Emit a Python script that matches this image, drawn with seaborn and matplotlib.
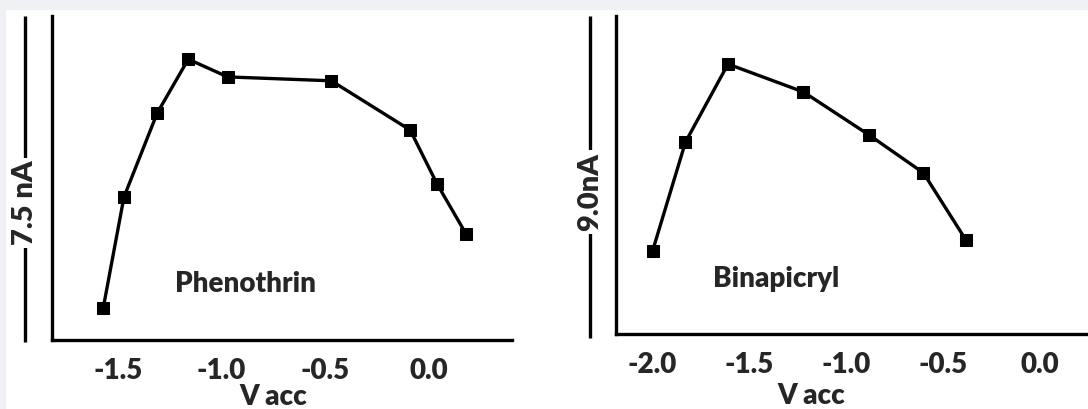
# two current vs accelerating voltage panels (Phenothrin / Binapicryl)
import matplotlib
matplotlib.use("Agg")
import matplotlib.pyplot as plt
import seaborn as sns
import pandas as pd
from matplotlib.patches import Rectangle

# values
phen_v = [-1.57, -1.47, -1.31, -1.16, -0.97, -0.47, -0.09, 0.04, 0.18]
phen_i = [0.74, 3.31, 5.25, 6.50, 6.09, 6.00, 4.86, 3.61, 2.45]
bina_v = [-2.00, -1.83, -1.61, -1.22, -0.88, -0.60, -0.38]
bina_i = [2.35, 5.43, 7.64, 6.85, 5.63, 4.56, 2.66]
phen_ticks = [-1.5, -1.0, -0.5, 0.0]
bina_ticks = [-2.0, -1.5, -1.0, -0.5, 0.0]

sns.set_style("white")
plt.rcParams['font.family'] = ['Lato', 'DejaVu Sans']
plt.rcParams['font.weight'] = 'heavy'

fig = plt.figure(figsize=(10.88, 4.09), dpi=100)
W, H = 1088, 409

# light grey frame strip at the top and left
fig.patches.append(Rectangle((0, 1 - 9 / H), 1, 9 / H, transform=fig.transFigure,
                             color='#eff1f4', zorder=0))
fig.patches.append(Rectangle((0, 0), 5 / W, 1, transform=fig.transFigure,
                             color='#eff1f4', zorder=0))

ax1 = fig.add_axes([52 / W, (H - 340) / H, (512 - 52) / W, (340 - 16) / H])
ax2 = fig.add_axes([616 / W, (H - 334) / H, (1088 - 616) / W, (334 - 16) / H])


def panel(ax, v, i, ticks, xlim, ymax, name, name_xy, scale_txt, bar_x, bar_y0, txt_y, xlab_xy):
    df = pd.DataFrame({'V acc': v, 'I': i})
    sns.lineplot(data=df, x='V acc', y='I', ax=ax, color='black', lw=2.4,
                 marker='s', markersize=8, markeredgecolor='black')
    ax.set_xlim(*xlim)
    ax.set_ylim(0, ymax)
    ax.set_xticks(ticks)
    ax.set_xticklabels([f"{t:.1f}" for t in ticks], fontsize=20, fontweight='heavy')
    ax.set_yticks([])
    ax.tick_params(axis='x', length=0, pad=13)
    ax.set_ylabel('')
    ax.set_xlabel('V acc', fontsize=20, fontweight='heavy')
    ax.xaxis.set_label_coords(*xlab_xy)
    sns.despine(ax=ax)
    for s in ['left', 'bottom']:
        ax.spines[s].set_linewidth(2.4)
        ax.spines[s].set_color('black')
    ax.text(name_xy[0], name_xy[1], name, transform=ax.transAxes, fontsize=20,
            fontweight='heavy', ha='left', va='baseline')
    # scale bar with the current label
    ax.plot([bar_x, bar_x], [bar_y0, 1.0], transform=ax.transAxes, color='black',
            lw=2.4, clip_on=False, solid_capstyle='butt')
    ax.text(bar_x, txt_y, scale_txt, transform=ax.transAxes, rotation=90, fontsize=21,
            fontweight='heavy', ha='center', va='center',
            bbox=dict(facecolor='white', edgecolor='none', pad=2))


panel(ax1, phen_v, phen_i, phen_ticks, (-1.817, 0.401), 7.5, 'Phenothrin', (0.267, 0.148),
      '7.5 nA', -0.0587, -0.006, 0.423, (0.48, -0.135))
panel(ax2, bina_v, bina_i, bina_ticks, (-2.189, 0.251), 9.0, 'Binapicryl', (0.2055, 0.148),
      '9.0nA', -0.055, -0.0126, 0.447, (0.413, -0.154))

fig.savefig('out.png', dpi=100, facecolor='white')
